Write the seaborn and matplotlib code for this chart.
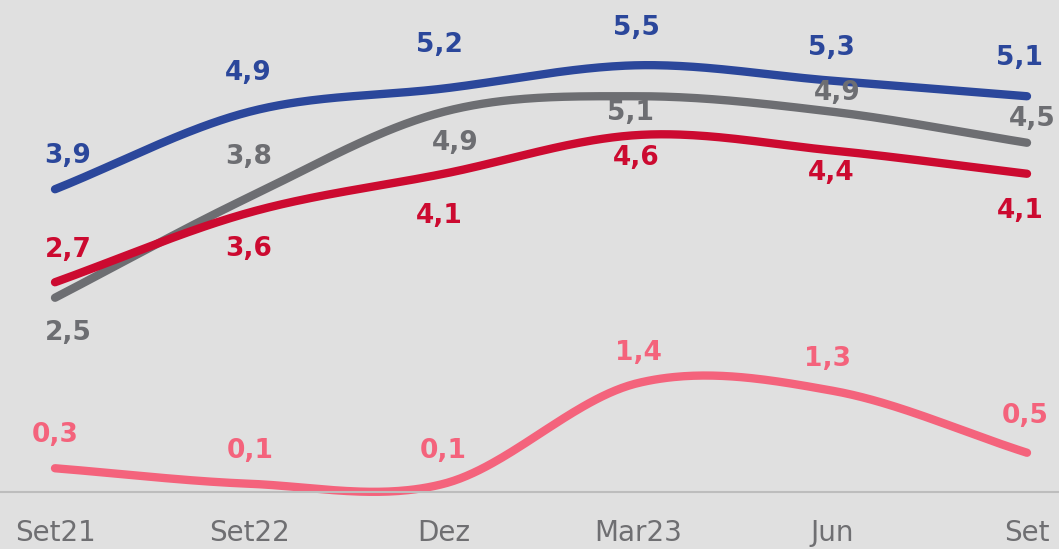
import numpy as np
import pandas as pd
import matplotlib
matplotlib.use("Agg")
import matplotlib.pyplot as plt
import seaborn as sns

categories = ["Set21", "Set22", "Dez", "Mar23", "Jun", "Set"]
blue_vals = [3.9, 4.9, 5.2, 5.5, 5.3, 5.1]
gray_vals = [2.5, 3.8, 4.9, 5.1, 4.9, 4.5]
red_vals = [2.7, 3.6, 4.1, 4.6, 4.4, 4.1]
pink_vals = [0.3, 0.1, 0.1, 1.4, 1.3, 0.5]
series_names = ["gray", "red", "blue", "pink"]

colors = {"blue": "#2b479b", "gray": "#6d6e72", "red": "#cc0a30", "pink": "#f4637c"}

# label offsets in pixels (dx right, dy down in image terms)
offsets = {
    "blue": [(13, -33), (-1, -39), (-4, -43), (-2, -37), (-1, -33), (-7, -38)],
    "gray": [(13, 35), (-1, -40), (11, 31), (-8, 17), (5, -19), (5, -24)],
    "red": [(13, -32), (-1, 36), (-4, 42), (-2, 23), (-1, 22), (-7, 37)],
    "pink": [(0, -33), (1, -33), (-1, -33), (0, -30), (-5, -32), (-2, -37)],
}

data = {"blue": blue_vals, "gray": gray_vals, "red": red_vals, "pink": pink_vals}


def catmull_rom(y, n=60):
    y = np.asarray(y, float)
    k = len(y)
    m = np.zeros(k)
    m[1:-1] = (y[2:] - y[:-2]) / 2
    m[0] = y[1] - y[0]
    m[-1] = y[-1] - y[-2]
    xs, ys = [], []
    for i in range(k - 1):
        t = np.linspace(0, 1, n, endpoint=(i == k - 2))
        h00 = 2 * t**3 - 3 * t**2 + 1
        h10 = t**3 - 2 * t**2 + t
        h01 = -2 * t**3 + 3 * t**2
        h11 = t**3 - t**2
        ys.append(h00 * y[i] + h10 * m[i] + h01 * y[i + 1] + h11 * m[i + 1])
        xs.append(i + t)
    return np.concatenate(xs), np.concatenate(ys)


rows = []
for name in series_names:
    xs, ys = catmull_rom(data[name])
    rows.append(pd.DataFrame({"x": xs, "y": ys, "series": name}))
df = pd.concat(rows, ignore_index=True)

sns.set_theme(style="white")
plt.rcParams["font.family"] = ["DejaVu Sans"]

fig = plt.figure(figsize=(10.59, 5.49), dpi=100)
fig.patch.set_facecolor("#e0e0e0")
ax = fig.add_axes([0, 1 - 491.5 / 549, 1, 491.5 / 549])
ax.set_facecolor("#e0e0e0")

sns.lineplot(data=df, x="x", y="y", hue="series", hue_order=series_names,
             palette=colors, linewidth=6, legend=False, ax=ax, sort=False,
             estimator=None)
for line in ax.get_lines():
    line.set_solid_capstyle("round")
    line.set_clip_on(False)

for name in series_names:
    for i, v in enumerate(data[name]):
        dx, dy = offsets[name][i]
        ax.annotate(f"{v:.1f}".replace(".", ","), (i, v), xytext=(dx, -dy),
                    textcoords="offset pixels", ha="center", va="center",
                    fontsize=19, fontweight="bold", color=colors[name])

ax.set_xlim(-55 / 194.4, 5 + 32 / 194.4)
ax.set_ylim(0, 491.5 / 77.5)
ax.set_xticks(range(len(categories)))
ax.set_xticklabels(categories, fontsize=20, color="#6f6f72")
ax.tick_params(axis="x", length=0, pad=20)
ax.set_yticks([])
ax.set_xlabel("")
ax.set_ylabel("")
for s in ["top", "left", "right"]:
    ax.spines[s].set_visible(False)
ax.spines["bottom"].set_color("#bdbdbd")
ax.spines["bottom"].set_linewidth(1.5)

fig.savefig("out.png", dpi=100, facecolor=fig.get_facecolor())
